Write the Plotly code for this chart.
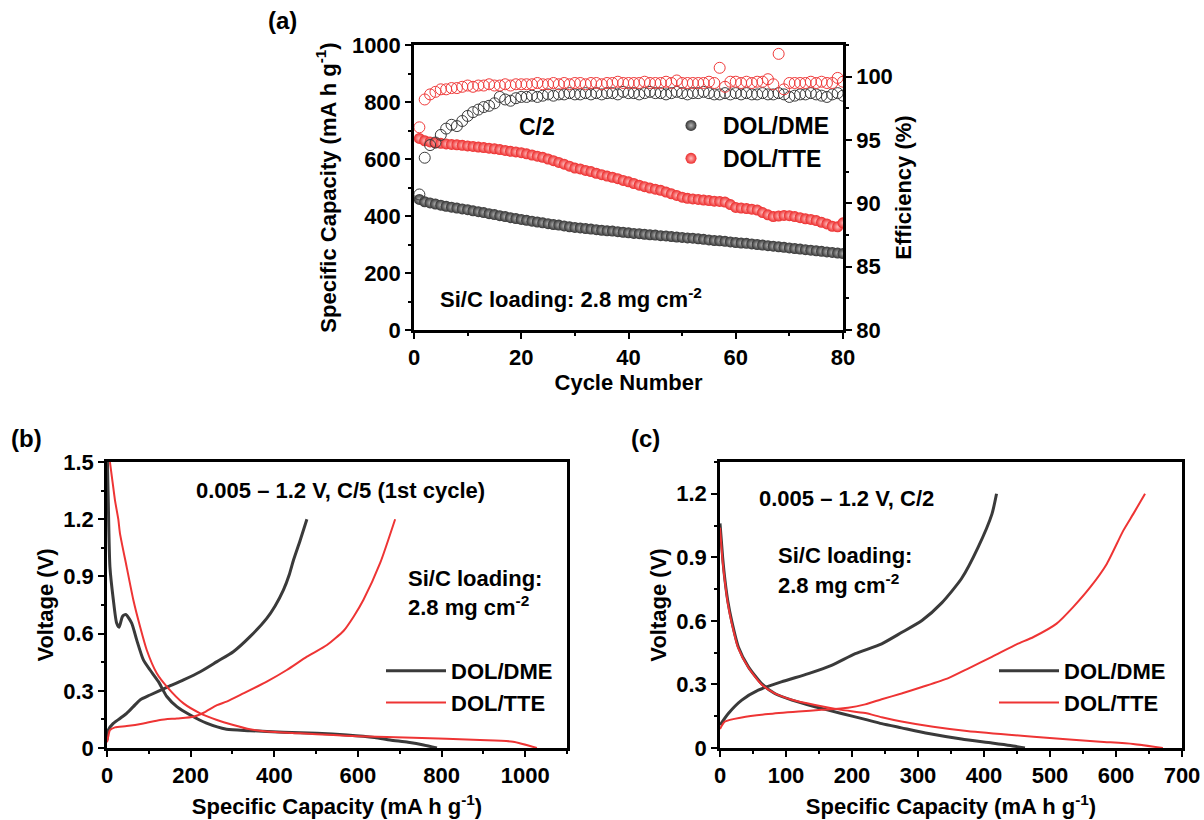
import plotly.graph_objects as go

W, H = 1204, 820
FONT = "Liberation Sans, Arial, sans-serif"
DARK = "#3a3a3a"
RED = "#ee3434"

# ---------- (a) cycling at C/2 ----------
cycles = list(range(1, 81))
cap_dme = [458, 450, 446, 442, 438, 434, 431, 428, 425, 422,
           418, 415, 412, 408, 405, 401, 398, 394, 391, 388,
           385, 382, 379, 376, 373, 370, 368, 365, 362, 360,
           358, 356, 354, 352, 350, 348, 347, 345, 343, 341,
           339, 338, 336, 334, 333, 331, 330, 328, 326, 325,
           323, 322, 320, 318, 316, 314, 313, 311, 309, 307,
           305, 304, 302, 300, 298, 296, 294, 292, 290, 288,
           286, 284, 282, 280, 278, 276, 274, 272, 270, 268]
cap_tte = [672, 664, 660, 657, 655, 653, 651, 650, 648, 646,
           644, 642, 640, 638, 636, 633, 630, 627, 625, 622,
           618, 614, 610, 606, 600, 594, 588, 582, 575, 568,
           565, 560, 556, 550, 545, 540, 536, 531, 525, 520,
           514, 508, 503, 498, 494, 490, 484, 478, 472, 466,
           462, 460, 458, 456, 454, 452, 451, 449, 440, 430,
           428, 426, 424, 421, 412, 404, 398, 400, 402, 401,
           398, 394, 390, 388, 384, 378, 372, 364, 362, 376]
ce_dme = [90.7, 93.6, 94.6, 94.8, 95.4, 95.9, 96.2, 96.1, 96.5, 96.9,
          97.2, 97.4, 97.6, 97.7, 97.9, 98.4, 98.2, 98.1, 98.3, 98.4,
          98.4, 98.5, 98.4, 98.5, 98.6, 98.5, 98.6, 98.6, 98.7, 98.6,
          98.6, 98.7, 98.6, 98.7, 98.6, 98.7, 98.7, 98.6, 98.8, 98.7,
          98.7, 98.6, 98.7, 98.8, 98.7, 98.7, 98.6, 98.7, 98.8, 98.7,
          98.6, 98.7, 98.7, 98.8, 98.7, 98.6, 98.6, 98.7, 98.6, 98.7,
          98.6, 98.7, 98.6, 98.6, 98.7, 98.6, 98.6, 98.7, 98.6, 98.4,
          98.5, 98.6, 98.6, 98.7, 98.6, 98.5, 98.4, 98.6, 98.7, 98.5]
ce_tte = [96.0, 98.2, 98.6, 98.8, 99.0, 99.0, 99.1, 99.1, 99.2, 99.3,
          99.2, 99.3, 99.3, 99.4, 99.3, 99.3, 99.4, 99.3, 99.4, 99.4,
          99.4, 99.4, 99.5, 99.4, 99.4, 99.5, 99.4, 99.5, 99.4, 99.5,
          99.5, 99.4, 99.5, 99.5, 99.4, 99.5, 99.5, 99.6, 99.5, 99.5,
          99.5, 99.5, 99.6, 99.5, 99.5, 99.5, 99.6, 99.5, 99.7, 99.5,
          99.5, 99.5, 99.5, 99.5, 99.6, 99.5, 100.7, 99.2, 99.6, 99.6,
          99.5, 99.6, 99.5, 99.6, 99.6, 99.8, 99.4, 101.8, 99.0, 99.5,
          99.5, 99.5, 99.5, 99.6, 99.5, 99.6, 99.5, 99.5, 99.9, 99.6]

# ---------- (b) first cycle at C/5 ----------
b_dme_dis_q = [1, 3, 7, 15, 23, 29, 37, 45, 59, 71, 87, 103, 123, 143, 167, 199,
               238, 286, 342, 422, 502, 574, 640, 677, 720, 757, 789]
b_dme_dis_v = [1.50, 1.30, 0.95, 0.78, 0.655, 0.633, 0.69, 0.70, 0.655, 0.567, 0.462,
               0.409, 0.348, 0.270, 0.217, 0.173, 0.130, 0.098, 0.091, 0.082, 0.077,
               0.068, 0.055, 0.042, 0.030, 0.016, 0.0]
b_dme_chg_q = [0, 3, 15, 31, 47, 63, 79, 103, 143, 183, 223, 263, 302, 342, 382,
               402, 422, 436, 446, 462, 478]
b_dme_chg_v = [0.04, 0.094, 0.129, 0.155, 0.182, 0.217, 0.252, 0.278, 0.318, 0.357,
               0.400, 0.453, 0.505, 0.584, 0.680, 0.745, 0.829, 0.91, 0.986, 1.09, 1.2]
b_tte_dis_q = [7, 13, 19, 27, 31, 47, 63, 79, 95, 119, 143, 183, 223, 263, 302, 342,
               382, 462, 541, 600, 733, 892, 971, 1028]
b_tte_dis_v = [1.50, 1.40, 1.30, 1.20, 1.126, 0.95, 0.776, 0.637, 0.514, 0.392, 0.322,
               0.234, 0.182, 0.147, 0.121, 0.098, 0.086, 0.077, 0.068, 0.062, 0.054,
               0.042, 0.033, 0.0]
b_tte_chg_q = [0, 3, 7, 19, 47, 87, 127, 167, 207, 231, 263, 286, 326, 382, 430, 478,
               526, 566, 590, 613, 653, 689]
b_tte_chg_v = [0.03, 0.06, 0.094, 0.108, 0.115, 0.129, 0.147, 0.155, 0.164, 0.185, 0.225,
               0.243, 0.286, 0.348, 0.409, 0.479, 0.540, 0.615, 0.69, 0.776, 0.969, 1.2]

# ---------- (c) cycling profile at C/2 ----------
c_dme_dis_q = [0, 4, 7.6, 12, 17.7, 27.8, 43, 63, 83, 109, 144, 184, 220, 245, 275,
               316, 366, 412, 440, 462]
c_dme_dis_v = [1.06, 0.90, 0.79, 0.69, 0.60, 0.477, 0.383, 0.304, 0.257, 0.226, 0.195,
               0.163, 0.135, 0.115, 0.095, 0.068, 0.042, 0.024, 0.012, 0.0]
c_dme_chg_q = [0, 12.6, 33, 58, 93, 134, 169, 205, 245, 275, 306, 336, 366, 391, 412, 419]
c_dme_chg_v = [0.108, 0.163, 0.226, 0.273, 0.312, 0.351, 0.390, 0.445, 0.492, 0.545,
               0.602, 0.685, 0.80, 0.947, 1.104, 1.2]
c_tte_dis_q = [0, 4, 7.6, 12, 17.7, 27.8, 43, 63, 83, 109, 144, 184, 220, 245, 275,
               323, 374, 475, 576, 626, 671]
c_tte_dis_v = [1.04, 0.88, 0.78, 0.68, 0.59, 0.47, 0.38, 0.30, 0.258, 0.228, 0.203,
               0.18, 0.165, 0.145, 0.125, 0.10, 0.08, 0.053, 0.03, 0.019, 0.0]
c_tte_chg_q = [0, 7.6, 33, 73, 119, 154, 194, 220, 245, 275, 306, 346, 376, 412, 450,
               475, 510, 535, 561, 586, 611, 626, 644]
c_tte_chg_v = [0.09, 0.125, 0.144, 0.16, 0.172, 0.18, 0.19, 0.206, 0.23, 0.257, 0.288,
               0.33, 0.375, 0.43, 0.49, 0.524, 0.587, 0.665, 0.759, 0.869, 1.026, 1.104, 1.2]


def fx(p):
    return p / W


def fy(p):
    return 1 - p / H


fig = go.Figure()

ball = dict(size=11, line=dict(width=0))
# capacity (filled, shaded balls)
fig.add_trace(go.Scatter(x=cycles, y=cap_dme, mode="markers", name="DOL/DME",
                         marker=dict(color="#333333", gradient=dict(type="radial", color="#b4b4b4"), **ball),
                         xaxis="x", yaxis="y", legend="legend"))
fig.add_trace(go.Scatter(x=cycles, y=cap_tte, mode="markers", name="DOL/TTE",
                         marker=dict(color="#ec2a2a", gradient=dict(type="radial", color="#ffbcbc"), **ball),
                         xaxis="x", yaxis="y", legend="legend"))
# coulombic efficiency (hollow circles)
fig.add_trace(go.Scatter(x=cycles, y=ce_dme, mode="markers", showlegend=False,
                         marker=dict(symbol="circle-open", color=DARK, size=11, line=dict(width=1)),
                         xaxis="x", yaxis="y2"))
fig.add_trace(go.Scatter(x=cycles, y=ce_tte, mode="markers", showlegend=False,
                         marker=dict(symbol="circle-open", color="#f03a3a", size=11, line=dict(width=1)),
                         xaxis="x", yaxis="y2"))


# voltage profiles
def profile(q, v, color, width, name, legend, xa, ya, show):
    fig.add_trace(go.Scatter(x=q, y=v, mode="lines", name=name, legendgroup=legend + name,
                             showlegend=show, legend=legend,
                             line=dict(color=color, width=width, shape="spline", smoothing=0.6),
                             xaxis=xa, yaxis=ya))


profile(b_dme_dis_q, b_dme_dis_v, DARK, 3, "DOL/DME", "legend2", "x2", "y3", True)
profile(b_dme_chg_q, b_dme_chg_v, DARK, 3, "DOL/DME", "legend2", "x2", "y3", False)
profile(b_tte_dis_q, b_tte_dis_v, RED, 2, "DOL/TTE", "legend2", "x2", "y3", True)
profile(b_tte_chg_q, b_tte_chg_v, RED, 2, "DOL/TTE", "legend2", "x2", "y3", False)

profile(c_dme_dis_q, c_dme_dis_v, DARK, 3, "DOL/DME", "legend3", "x3", "y4", True)
profile(c_dme_chg_q, c_dme_chg_v, DARK, 3, "DOL/DME", "legend3", "x3", "y4", False)
profile(c_tte_dis_q, c_tte_dis_v, RED, 2, "DOL/TTE", "legend3", "x3", "y4", True)
profile(c_tte_chg_q, c_tte_chg_v, RED, 2, "DOL/TTE", "legend3", "x3", "y4", False)

tickfont = dict(family=FONT, size=22, color="black", weight="bold")
titlefont = dict(family=FONT, size=22, color="black", weight="bold")


def axis(domain, rng, dtick, minor, title, anchor, mirror=True, standoff=None):
    d = dict(domain=domain, range=rng, dtick=dtick, tick0=0, anchor=anchor,
             showline=True, linecolor="black", linewidth=2.5, mirror=mirror,
             ticks="outside", ticklen=6, tickwidth=2, tickcolor="black",
             minor=dict(ticks="outside", ticklen=3, tickwidth=1.5, dtick=minor, tickcolor="black"),
             showgrid=False, zeroline=False, tickfont=tickfont, automargin=False,
             title=dict(text=title, font=titlefont))
    if standoff is not None:
        d["title"]["standoff"] = standoff
    return d


cap_title = "Specific Capacity (mA h g<sup>-1</sup>)"
xa_dom = [fx(414), fx(843)]
xb_dom = [fx(107), fx(567)]
xc_dom = [fx(720), fx(1182)]
ya_dom = [fy(330), fy(45)]
ybc_dom = [fy(748), fy(462)]

fig.update_layout(
    width=W, height=H, autosize=False,
    margin=dict(l=0, r=0, t=0, b=0),
    paper_bgcolor="white", plot_bgcolor="white",
    font=dict(family=FONT, color="black"),
    xaxis=axis(xa_dom, [0, 80], 20, 10, "Cycle Number", "y", standoff=6),
    yaxis=axis(ya_dom, [0, 1000], 200, 100, cap_title, "x", mirror=False, standoff=10),
    yaxis2=dict(axis(ya_dom, [80, 102.5], 5, 2.5, "Efficiency (%)", "x", mirror=False, standoff=4),
                overlaying="y", side="right", tick0=80),
    xaxis2=axis(xb_dom, [0, 1100], 200, 100, cap_title, "y3", standoff=12),
    yaxis3=axis(ybc_dom, [0, 1.5], 0.3, 0.15, "Voltage (V)", "x2", standoff=4),
    xaxis3=axis(xc_dom, [0, 700], 100, 50, cap_title, "y4", standoff=12),
    yaxis4=axis(ybc_dom, [0, 1.35], 0.3, 0.15, "Voltage (V)", "x3", standoff=4),
    legend=dict(x=fx(659), y=fy(104), xanchor="left", yanchor="top",
                bgcolor="rgba(0,0,0,0)", font=dict(family=FONT, size=23, weight="bold"),
                itemwidth=54, tracegroupgap=0),
    legend2=dict(x=fx(381), y=fy(650), xanchor="left", yanchor="top",
                 bgcolor="rgba(0,0,0,0)", font=dict(family=FONT, size=22, weight="bold"),
                 itemwidth=60, tracegroupgap=0),
    legend3=dict(x=fx(994), y=fy(650), xanchor="left", yanchor="top",
                 bgcolor="rgba(0,0,0,0)", font=dict(family=FONT, size=22, weight="bold"),
                 itemwidth=60, tracegroupgap=0),
)

ann_font = dict(family=FONT, size=22, color="black", weight="bold")
label_font = dict(family=FONT, size=24, color="black", weight="bold")
annotations = [
    dict(text="(a)", x=fx(282), y=fy(20), font=label_font),
    dict(text="(b)", x=fx(26), y=fy(438), font=label_font),
    dict(text="(c)", x=fx(645), y=fy(438), font=label_font),
    dict(text="C/2", x=fx(537), y=fy(127), font=dict(family=FONT, size=23, weight="bold")),
    dict(text="Si/C loading: 2.8 mg cm<sup>-2</sup>", x=fx(438), y=fy(298), xanchor="left",
         font=ann_font),
    dict(text="0.005 \u2013 1.2 V, C/5 (1st cycle)", x=fx(340), y=fy(490), font=ann_font),
    dict(text="Si/C loading:", x=fx(406), y=fy(578), xanchor="left", font=ann_font),
    dict(text="2.8 mg cm<sup>-2</sup>", x=fx(406), y=fy(606), xanchor="left", font=ann_font),
    dict(text="0.005 \u2013 1.2 V, C/2", x=fx(757), y=fy(498), xanchor="left", font=ann_font),
    dict(text="Si/C loading:", x=fx(776), y=fy(555), xanchor="left", font=ann_font),
    dict(text="2.8 mg cm<sup>-2</sup>", x=fx(776), y=fy(584), xanchor="left", font=ann_font),
]
for a in annotations:
    a.setdefault("xanchor", "center")
    a.update(xref="paper", yref="paper", yanchor="middle", showarrow=False)
fig.update_layout(annotations=annotations)

fig.write_html("out.html")
